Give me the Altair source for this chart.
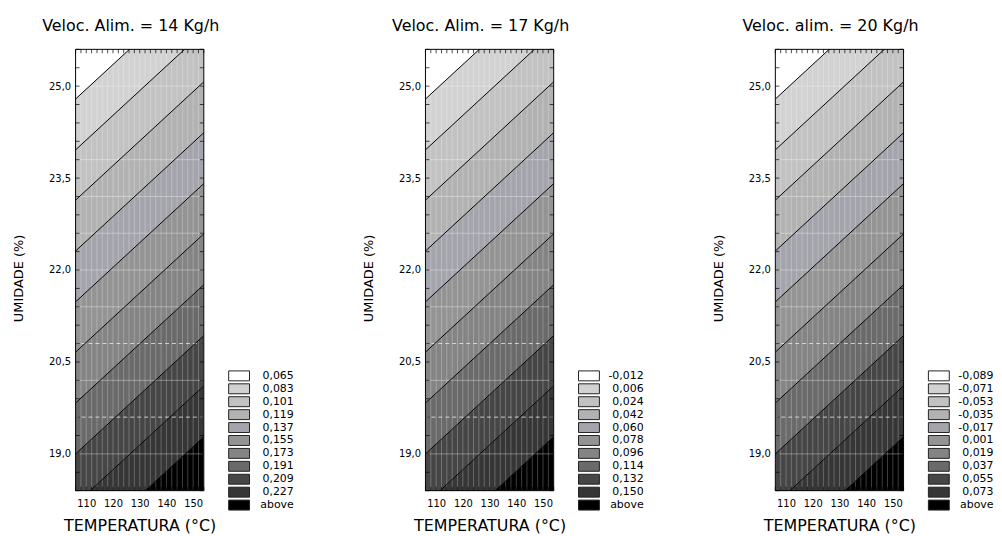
import altair as alt
import pandas as pd

# ---------------- data ----------------
T_MIN, T_MAX = 106, 154          # temperature axis range (°C)
U_MIN, U_MAX = 18.4, 25.6        # humidity axis range (%)

panel_titles = [
    "Veloc. Alim. = 14 Kg/h",
    "Veloc. Alim. = 17 Kg/h",
    "Veloc. alim. = 20 Kg/h",
]

legend_labels = [
    ["0,065", "0,083", "0,101", "0,119", "0,137", "0,155", "0,173", "0,191", "0,209", "0,227", "above"],
    ["-0,012", "0,006", "0,024", "0,042", "0,060", "0,078", "0,096", "0,114", "0,132", "0,150", "above"],
    ["-0,089", "-0,071", "-0,053", "-0,035", "-0,017", "0,001", "0,019", "0,037", "0,055", "0,073", "above"],
]

band_grays = ["#ffffff", "#d2d2d2", "#c2c2c2", "#b2b2b2", "#a4a4ac", "#949494",
              "#848484", "#6a6a6a", "#464646", "#363636", "#000000"]

# contour lines (10 levels): humidity where each line meets T=106 and T=154
contour_T = [106, 154]
contour_u_at_106 = [24.79, 23.96, 23.14, 22.31, 21.48, 20.66, 19.83, 19.00, 18.18, 17.35]
contour_u_at_154 = [26.72, 25.89, 25.07, 24.24, 23.41, 22.59, 21.76, 20.93, 20.11, 19.28]

x_label_values = [110, 120, 130, 140, 150]
x_tick_values = [106, 108, 110, 112, 114, 116, 118, 120, 122, 124, 126, 128, 130,
                 132, 134, 136, 138, 140, 142, 144, 146, 148, 150, 152, 154]
x_grid_values = [108, 110, 112, 114, 116, 118, 120, 122, 124, 126, 128, 130,
                 132, 134, 136, 138, 140, 142, 144, 146, 148, 150, 152]
y_label_values = [19.0, 20.5, 22.0, 23.5, 25.0]
y_tick_values = [18.4, 18.7, 19.0, 19.3, 19.6, 19.9, 20.2, 20.5, 20.8, 21.1, 21.4, 21.7,
                 22.0, 22.3, 22.6, 22.9, 23.2, 23.5, 23.8, 24.1, 24.4, 24.7, 25.0, 25.3, 25.6]
y_grid_values = [19.0, 20.2, 21.4, 22.0, 22.6, 23.2, 23.8, 25.0]
y_dash_values = [19.6, 20.8]

FONT = "DejaVu Sans"

# ---------------- tables ----------------
ends = [contour_u_at_106, contour_u_at_154]

line_rows = []
for k in range(len(contour_u_at_106)):
    for j, T in enumerate(contour_T):
        line_rows.append({"T": T, "u": ends[j][k], "level": k})
lines_df = pd.DataFrame(line_rows)


def band_table(labels):
    rows = []
    n = len(labels)
    for i, lab in enumerate(labels):
        for j, T in enumerate(contour_T):
            lo = ends[j][i] if i < n - 1 else U_MIN
            hi = ends[j][i - 1] if i > 0 else U_MAX
            rows.append({"T": T, "lo": lo, "hi": hi, "band": lab})
    return pd.DataFrame(rows)


left_ticks = pd.DataFrame({"T": [T_MIN] * len(y_tick_values), "u": y_tick_values})
right_ticks = pd.DataFrame({"T": [T_MAX] * len(y_tick_values), "u": y_tick_values})
top_ticks = pd.DataFrame({"T": x_tick_values, "u": [U_MAX] * len(x_tick_values)})
bottom_ticks = pd.DataFrame({"T": x_tick_values, "u": [U_MIN] * len(x_tick_values)})
frame_df = pd.DataFrame({"T": [T_MIN], "T2": [T_MAX], "u": [U_MIN], "u2": [U_MAX]})

xscale = alt.Scale(domain=[T_MIN, T_MAX], nice=False, zero=False)
yscale = alt.Scale(domain=[U_MIN, U_MAX], nice=False, zero=False)

x_axis = alt.Axis(
    title="TEMPERATURA (°C)", values=x_label_values, format="d",
    ticks=False, domain=False, grid=False, labelOverlap=False,
    labelFont=FONT, labelFontSize=10, labelColor="black", labelPadding=8,
    titleFont=FONT, titleFontSize=16, titleFontWeight="normal", titleColor="black",
    titlePadding=9,
)
y_axis = alt.Axis(
    title="UMIDADE (%)", values=y_label_values, format=".1f",
    ticks=False, domain=False, grid=False, labelOverlap=False,
    labelFont=FONT, labelFontSize=10, labelColor="black", labelPadding=5,
    titleFont=FONT, titleFontSize=13, titleFontWeight="normal", titleColor="black",
    titlePadding=23, titleY=230,
)


def X(field):
    return alt.X(field, scale=xscale, axis=x_axis)


def Y(field):
    return alt.Y(field, scale=yscale, axis=y_axis)


def panel(idx):
    labels = legend_labels[idx]
    bands = alt.Chart(band_table(labels)).mark_area(clip=True).encode(
        x=X("T:Q"),
        y=alt.Y("lo:Q", scale=yscale, axis=y_axis, stack=None),
        y2=alt.Y2("hi:Q"),
        color=alt.Color(
            "band:N",
            scale=alt.Scale(domain=labels, range=band_grays),
            legend=alt.Legend(
                title=None, orient="none", legendX=159, legendY=323,
                symbolType="M-2.1,-1H2.1V1H-2.1Z", symbolSize=100,
                symbolStrokeColor="#222222", symbolStrokeWidth=1, symbolOpacity=1,
                labelFont=FONT, labelFontSize=11, labelColor="black",
                labelAlign="right", labelOffset=49.5, rowPadding=-3.1, padding=0,
            ),
        ),
    )
    xg = alt.Chart(pd.DataFrame({"T": x_grid_values})).mark_rule(
        color="white", opacity=0.25, strokeWidth=1).encode(x=X("T:Q"))
    yg = alt.Chart(pd.DataFrame({"u": y_grid_values})).mark_rule(
        color="white", opacity=0.35, strokeWidth=1).encode(y=Y("u:Q"))
    yd = alt.Chart(pd.DataFrame({"u": y_dash_values})).mark_rule(
        color="white", opacity=0.7, strokeWidth=1, strokeDash=[4, 3]).encode(y=Y("u:Q"))
    contours = alt.Chart(lines_df).mark_line(color="black", strokeWidth=1, clip=True).encode(
        x=X("T:Q"), y=Y("u:Q"), detail="level:N")
    tl = alt.Chart(left_ticks).mark_tick(orient="horizontal", size=4, thickness=1,
                                         color="black", xOffset=2).encode(x=X("T:Q"), y=Y("u:Q"))
    tr = alt.Chart(right_ticks).mark_tick(orient="horizontal", size=4, thickness=1,
                                          color="black", xOffset=-2).encode(x=X("T:Q"), y=Y("u:Q"))
    tt = alt.Chart(top_ticks).mark_tick(orient="vertical", size=4, thickness=1,
                                        color="black", yOffset=2).encode(x=X("T:Q"), y=Y("u:Q"))
    tb = alt.Chart(bottom_ticks).mark_tick(orient="vertical", size=4, thickness=1,
                                           color="black", yOffset=-2).encode(x=X("T:Q"), y=Y("u:Q"))
    frame = alt.Chart(frame_df).mark_rect(fillOpacity=0, stroke="black", strokeWidth=1).encode(
        x=X("T:Q"), x2="T2:Q", y=Y("u:Q"), y2="u2:Q")
    return alt.layer(bands, xg, yg, yd, contours, tl, tr, tt, tb, frame).properties(
        width=129, height=444,
        title=alt.TitleParams(text=panel_titles[idx], font=FONT, fontSize=16, fontWeight="normal",
                              color="black", anchor="middle", frame="group", dx=-9, offset=15),
    )


chart = alt.hconcat(panel(0), panel(1), panel(2), spacing=68).resolve_scale(
    color="independent"
).properties(
    padding={"left": 4, "top": 8, "right": 0, "bottom": 0},
    background="white",
).configure_view(strokeWidth=0).configure_axisX(labelOverlap=False)

chart.save("out.html", embed_options={
    "renderer": "svg", "actions": False,
    "formatLocale": {"decimal": ",", "thousands": ".", "grouping": [3], "currency": ["", ""]},
})
